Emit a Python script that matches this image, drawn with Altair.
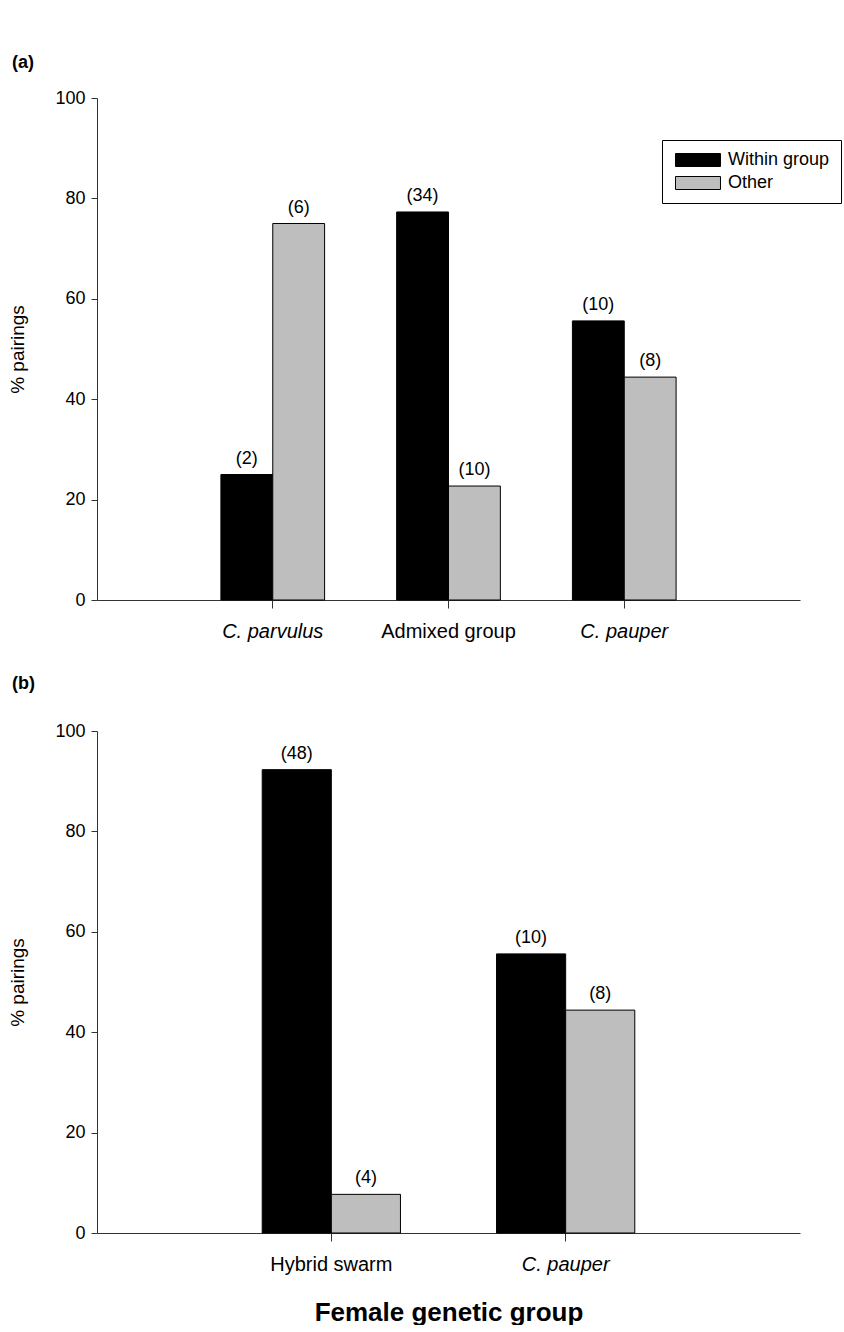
import altair as alt
import pandas as pd

FONT = "Liberation Sans"

# ---- data (panel a) ----
groups_a = ["C. parvulus", "Admixed group", "C. pauper"]
within_a = [25.0, 77.3, 55.6]
other_a = [75.0, 22.7, 44.4]
n_within_a = [2, 34, 10]
n_other_a = [6, 10, 8]

# ---- data (panel b) ----
groups_b = ["Hybrid swarm", "C. pauper"]
within_b = [92.3, 55.6]
other_b = [7.7, 44.4]
n_within_b = [48, 10]
n_other_b = [4, 8]

series = ["Within group", "Other"]
colors = ["#000000", "#bebebe"]
y_ticks = [0, 20, 40, 60, 80, 100]


def make_df(groups, w, o, nw, no):
    rows = []
    for g, a, b, na, nb in zip(groups, w, o, nw, no):
        rows.append({"group": g, "series": series[0], "pct": a, "label": f"({na})"})
        rows.append({"group": g, "series": series[1], "pct": b, "label": f"({nb})"})
    return pd.DataFrame(rows)


italic_test = "datum.value == 'C. parvulus' || datum.value == 'C. pauper'"


def panel(df, groups, height, title, title_offset, legend, x_title):
    x_axis = alt.Axis(
        title=x_title,
        labelAngle=0,
        tickSize=8,
        labelPadding=13,
        labelFontSize=20,
        labelFontStyle={"condition": {"test": italic_test, "value": "italic"}, "value": "normal"},
        titleFontSize=26,
        titleFontWeight="bold",
        titlePadding=25,
    )
    x = alt.X("group:N", sort=groups,
              scale=alt.Scale(paddingInner=0.41, paddingOuter=0.705),
              axis=x_axis)
    xoff = alt.XOffset("series:N", sort=series,
                       scale=alt.Scale(domain=series, paddingInner=0, paddingOuter=0))
    y = alt.Y("pct:Q", scale=alt.Scale(domain=[0, 100], nice=False),
              axis=alt.Axis(title="% pairings", values=y_ticks, tickSize=6,
                            labelPadding=6, labelFontSize=18, titleFontSize=19,
                            titleFontWeight="normal", titlePadding=27))
    base = alt.Chart(df)
    bars = base.mark_bar(stroke="black", strokeWidth=1).encode(
        x=x, xOffset=xoff, y=y,
        color=alt.Color("series:N", sort=series,
                        scale=alt.Scale(domain=series, range=colors),
                        legend=legend),
    )
    text = base.mark_text(baseline="bottom", dy=-7, font=FONT, fontSize=18,
                          color="black").encode(
        x=alt.X("group:N", sort=groups), xOffset=xoff, y="pct:Q", text="label:N")
    return alt.layer(bars, text).properties(
        width=703, height=height,
        title=alt.TitleParams(title, anchor="start", frame="group", dx=-85,
                              offset=title_offset, fontSize=18,
                              fontWeight="bold", font=FONT, color="black"),
    )


legend_a = alt.Legend(
    orient="none", legendX=565, legendY=42, title=None,
    symbolType="M-3.46,-1L3.46,-1L3.46,1L-3.46,1Z", symbolSize=169,
    symbolOffset=16,
    symbolStrokeColor="black", symbolStrokeWidth=1, symbolOpacity=1,
    labelFont=FONT, labelFontSize=18, labelColor="black", labelOffset=21,
    strokeColor="black", fillColor="white", padding=11, rowPadding=5,
)

df_a = make_df(groups_a, within_a, other_a, n_within_a, n_other_a)
df_b = make_df(groups_b, within_b, other_b, n_within_b, n_other_b)

pa = panel(df_a, groups_a, 502, "(a)", 17, legend_a, None)
pb = panel(df_b, groups_b, 502, "(b)", 29, None, "Female genetic group")

chart = (
    alt.vconcat(pa, pb, spacing=34)
    .resolve_scale(color="independent", x="independent", xOffset="independent")
    .configure_view(stroke=None)
    .configure_axis(labelFont=FONT, titleFont=FONT, grid=False,
                    domainColor="#333333", tickColor="#333333",
                    labelColor="black", titleColor="black")
    .properties(background="white",
                padding={"left": 8, "top": 54, "right": 0, "bottom": 0})
)

chart.save("out.html", embed_options={"renderer": "svg", "actions": False})
